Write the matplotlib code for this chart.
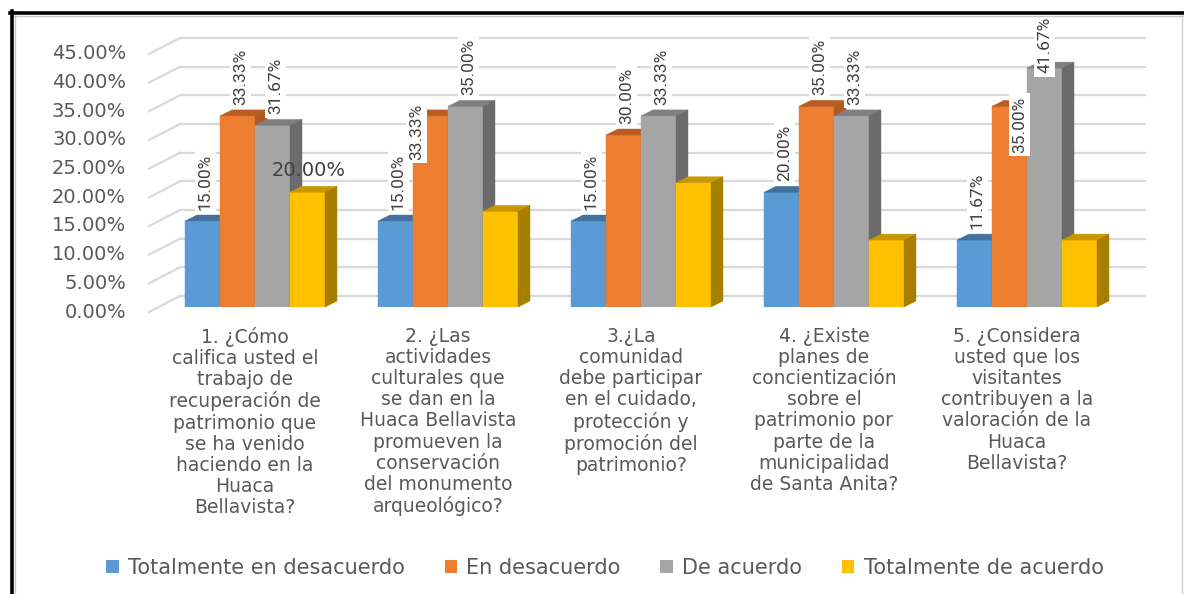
import matplotlib
matplotlib.use('Agg')
import matplotlib.pyplot as plt
from matplotlib import font_manager
from matplotlib.patches import Polygon, Patch
from matplotlib.lines import Line2D
from matplotlib.transforms import ScaledTranslation

# --- Data ---
CATEGORIES = [
    "1. ¿Cómo\ncalifica usted el\ntrabajo de\nrecuperación de\npatrimonio que\nse ha venido\nhaciendo en la\nHuaca\nBellavista?",
    "2. ¿Las\nactividades\nculturales que\nse dan en la\nHuaca Bellavista\npromueven la\nconservación\ndel monumento\narqueológico?",
    "3.¿La\ncomunidad\ndebe participar\nen el cuidado,\nprotección y\npromoción del\npatrimonio?",
    "4. ¿Existe\nplanes de\nconcientización\nsobre el\npatrimonio por\nparte de la\nmunicipalidad\nde Santa Anita?",
    "5. ¿Considera\nusted que los\nvisitantes\ncontribuyen a la\nvaloración de la\nHuaca\nBellavista?",
]
SERIES = ["Totalmente en desacuerdo", "En desacuerdo", "De acuerdo", "Totalmente de acuerdo"]
TOT_DESACUERDO = [15.00, 15.00, 15.00, 20.00, 11.67]
EN_DESACUERDO = [33.33, 33.33, 30.00, 35.00, 35.00]
DE_ACUERDO = [31.67, 35.00, 33.33, 33.33, 41.67]
TOT_ACUERDO = [20.00, 16.67, 21.67, 11.67, 11.67]
Y_TICKS = [0, 5, 10, 15, 20, 25, 30, 35, 40, 45]

# --- Style ---
FRONT = ['#5B9BD5', '#ED7D31', '#A5A5A5', '#FFC000']
TOP = ['#41719C', '#B85C22', '#7F7F7F', '#C99700']
SIDE = ['#3F6E98', '#AE5A21', '#6B6B6B', '#A67F00']
GRID = '#D9D9D9'
TXT = '#595959'
LBL = '#404040'
DPI = 100
W_PX, H_PX = 1184, 594

names = {f.name for f in font_manager.fontManager.ttflist}
if 'Liberation Sans Narrow' in names:
    NARROW, NARROW_SIZE = 'Liberation Sans Narrow', 14
elif 'Roboto' in names:
    NARROW, NARROW_SIZE = 'Roboto', 12.5
else:
    NARROW, NARROW_SIZE = 'DejaVu Sans', 11

# which labels are shown, and the odd ones Excel moved (bottom value, x shift px)
HIDE_LABEL = {(1, 3), (2, 3), (3, 3), (4, 3)}
HORIZONTAL_LABEL = {(0, 3)}
LABEL_MOVED = {(1, 1): (25.7, -14), (4, 1): (26.9, 10), (4, 2): (40.8, 0)}

# geometry in pixels
AX_LEFT, AX_RIGHT, AX_BASE, AX_TOP = 149, 1115, 307, 49
GROUP_C0, GROUP_STEP, BAR_PX = 255, 193, 35
DEPTH_DX, DEPTH_DY = 12, 6
BACK_DX, BACK_DY = 31, 11
FRONT_DY = 5


def px(v):
    return v / DPI


fig = plt.figure(figsize=(W_PX / DPI, H_PX / DPI), dpi=DPI)
ax = fig.add_axes([AX_LEFT / W_PX, (H_PX - AX_BASE) / H_PX,
                   (AX_RIGHT - AX_LEFT) / W_PX, (AX_BASE - AX_TOP) / H_PX])
ax.set_xlim((AX_LEFT - GROUP_C0) / GROUP_STEP, (AX_RIGHT - GROUP_C0) / GROUP_STEP)
ax.set_ylim(0, 45)
ax.axis('off')

ppx = (AX_RIGHT - AX_LEFT) / (ax.get_xlim()[1] - ax.get_xlim()[0])
ppy = (AX_BASE - AX_TOP) / 45.0
bw = BAR_PX / ppx
ddx, ddy = DEPTH_DX / ppx, DEPTH_DY / ppy

# back wall gridlines + floor diagonals
ytr = ax.get_yaxis_transform()
for v in Y_TICKS:
    back = ytr + ScaledTranslation(px(BACK_DX), px(BACK_DY), fig.dpi_scale_trans)
    ax.plot([0, 1], [v, v], transform=back, color=GRID, lw=1.6, zorder=1,
            clip_on=False, solid_capstyle='butt')
    x0, y0 = ytr.transform((0, v))
    fx0, fy0 = fig.transFigure.inverted().transform((x0, y0 - FRONT_DY))
    fx1, fy1 = fig.transFigure.inverted().transform((x0 + BACK_DX, y0 + BACK_DY))
    fig.add_artist(Line2D([fx0, fx1], [fy0, fy1], color=GRID, lw=1.6, zorder=1))
    ax.text(0, v, f"{v:.2f}%", transform=ytr + ScaledTranslation(
        px(-23), px(-FRONT_DY), fig.dpi_scale_trans),
        ha='right', va='center', fontsize=14, color=TXT)

# 3D-ish bars
values = [TOT_DESACUERDO, EN_DESACUERDO, DE_ACUERDO, TOT_ACUERDO]
for j, vals in enumerate(values):
    z = 3 + j
    xs = [i + (j - 1.5) * bw for i in range(len(CATEGORIES))]
    bars = ax.bar(xs, vals, width=bw, color=FRONT[j], edgecolor=FRONT[j],
                  lw=0.3, zorder=z)
    for i, b in enumerate(bars):
        x0, x1, h = b.get_x(), b.get_x() + b.get_width(), b.get_height()
        ax.add_patch(Polygon([(x0, h), (x1, h), (x1 + ddx, h + ddy), (x0 + ddx, h + ddy)],
                             closed=True, fc=TOP[j], ec=TOP[j], lw=0.3, zorder=z))
        ax.add_patch(Polygon([(x1, 0), (x1 + ddx, ddy), (x1 + ddx, h + ddy), (x1, h)],
                             closed=True, fc=SIDE[j], ec=SIDE[j], lw=0.3, zorder=z))

        key = (i, j)
        if key in HIDE_LABEL:
            continue
        xc = b.get_x() + b.get_width() / 2
        txt = f"{h:.2f}%"
        if key in HORIZONTAL_LABEL:
            ax.text(xc, h, txt, transform=ax.transData + ScaledTranslation(
                px(1), px(12), fig.dpi_scale_trans), ha='center', va='bottom',
                fontsize=14, color=LBL, zorder=10)
            continue
        if key in LABEL_MOVED:
            yb, sx = LABEL_MOVED[key]
            off = ScaledTranslation(px(sx), 0, fig.dpi_scale_trans)
        else:
            yb = h
            off = ScaledTranslation(px(3), px(11), fig.dpi_scale_trans)
        ax.text(xc, yb, txt, transform=ax.transData + off, rotation=90,
                ha='center', va='bottom', fontsize=NARROW_SIZE, color=LBL,
                family=[NARROW, 'DejaVu Sans'], zorder=10,
                bbox=dict(boxstyle='square,pad=0.2', fc='white', ec='none'))

# category labels
for i, cat in enumerate(CATEGORIES):
    ax.text(i, 0, cat, transform=ax.transData + ScaledTranslation(
        px(-10), px(-20), fig.dpi_scale_trans), ha='center', va='top',
        fontsize=13.5, color=TXT, linespacing=1.14)

# legend
handles = [Patch(facecolor=c, edgecolor='none') for c in FRONT]
fig.legend(handles, SERIES, loc='center', bbox_to_anchor=(605 / W_PX, (H_PX - 568) / H_PX),
           ncol=4, frameon=False, fontsize=15, handlelength=0.6, handleheight=0.6,
           handletextpad=0.45, columnspacing=1.9, labelcolor=TXT)

# outer frame
def fx(x):
    return x / W_PX


def fy(y):
    return (H_PX - y) / H_PX


fig.add_artist(Line2D([fx(10), fx(W_PX)], [fy(12.5), fy(12.5)], color='black', lw=2.6))
fig.add_artist(Line2D([fx(14), fx(W_PX)], [fy(15.5), fy(15.5)], color='#C8C8C8', lw=1.0))
fig.add_artist(Line2D([fx(11.5), fx(11.5)], [fy(11), fy(H_PX)], color='black', lw=2.6))
fig.add_artist(Line2D([fx(14.5), fx(14.5)], [fy(15), fy(H_PX)], color='#C8C8C8', lw=1.0))
fig.add_artist(Line2D([fx(1182), fx(1182)], [fy(15), fy(H_PX)], color='#D0D0D0', lw=1.0))

fig.savefig('out.png', dpi=DPI)
